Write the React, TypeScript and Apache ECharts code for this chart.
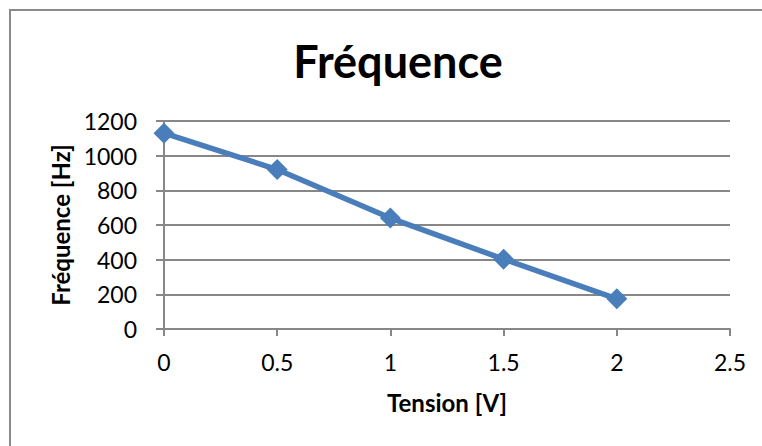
import React, { useEffect, useRef } from "react";
import * as echarts from "echarts";

const tensionValues = [0, 0.5, 1, 1.5, 2];
const frequenceValues = [1130, 920, 640, 403, 174];
const titleText = "Fréquence";
const xAxisTitle = "Tension [V]";
const yAxisTitle = "Fréquence [Hz]";

export default function App() {
  const ref = useRef<HTMLDivElement>(null);
  useEffect(() => {
    if (!ref.current) return;
    const chart = echarts.init(ref.current, null, { renderer: "svg" });
    const gray = "#878787";
    const font = "Lato, 'Open Sans', sans-serif";
    chart.setOption({
      animation: false,
      backgroundColor: "#ffffff",
      title: {
        text: titleText,
        left: 393,
        top: 33,
        textAlign: "center",
        textStyle: { fontFamily: font, fontWeight: "bold", fontSize: 45, color: "#000" },
      },
      graphic: [
        {
          type: "rect",
          shape: { x: 10, y: 10, width: 800, height: 500 },
          style: { fill: "none", stroke: "#8a8a8a", lineWidth: 2 },
          silent: true,
        },
      ],
      grid: { left: 164, right: 32, top: 121, bottom: 117, containLabel: false },
      xAxis: {
        type: "value",
        min: 0,
        max: 2.5,
        interval: 0.5,
        name: xAxisTitle,
        nameLocation: "middle",
        nameGap: 61,
        nameTextStyle: { fontFamily: font, fontWeight: "bold", fontSize: 24, color: "#000" },
        axisLine: { show: true, lineStyle: { color: gray, width: 2 } },
        axisTick: { show: true, inside: false, length: 7, lineStyle: { color: gray, width: 2 } },
        axisLabel: { margin: 21, fontFamily: font, fontSize: 23, color: "#000", formatter: (v: number) => String(v) },
        splitLine: { show: false },
      },
      yAxis: {
        type: "value",
        min: 0,
        max: 1200,
        interval: 200,
        name: yAxisTitle,
        nameLocation: "middle",
        nameGap: 90,
        nameTextStyle: { fontFamily: font, fontWeight: "bold", fontSize: 24, color: "#000" },
        axisLine: { show: true, lineStyle: { color: gray, width: 2 } },
        axisTick: { show: true, inside: false, length: 8, lineStyle: { color: gray, width: 2 } },
        axisLabel: { margin: 27, fontFamily: font, fontSize: 23, color: "#000", formatter: (v: number) => String(v) },
        splitLine: { show: true, lineStyle: { color: gray, width: 2 } },
      },
      series: [
        {
          type: "line",
          data: tensionValues.map((t, i) => [t, frequenceValues[i]]),
          lineStyle: { color: "#4a7ebb", width: 5.5 },
          itemStyle: { color: "#4a7ebb" },
          symbol: "diamond",
          symbolSize: 21,
          showSymbol: true,
        },
      ],
    });
    return () => chart.dispose();
  }, []);
  return (
    <div
      ref={ref}
      style={{ position: "fixed", left: 0, top: 0, width: 762, height: 446 }}
    />
  );
}
